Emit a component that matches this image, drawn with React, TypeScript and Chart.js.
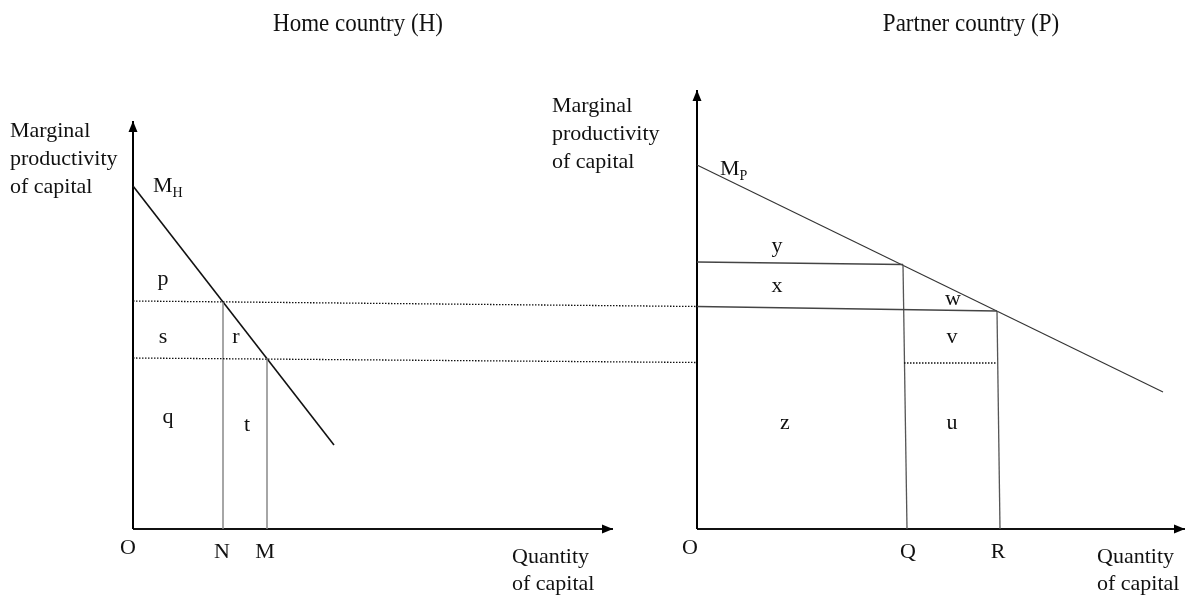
import React, { useEffect, useRef } from "react";
import { Chart, registerables } from "chart.js";
Chart.register(...registerables);

// Diagram units: 1 unit on each axis; Home origin at x=0, Partner origin at x=56.4
const homeYAxis = [{ x: 0, y: 0 }, { x: 0, y: 40.8 }];
const homeXAxis = [{ x: 0, y: 0 }, { x: 48.0, y: 0 }];
const partnerYAxis = [{ x: 56.4, y: 0 }, { x: 56.4, y: 43.9 }];
const partnerXAxis = [{ x: 56.4, y: 0 }, { x: 105.2, y: 0 }];
const curveMH = [{ x: 0, y: 34.3 }, { x: 20.1, y: 8.4 }];
const curveMP = [{ x: 56.4, y: 36.4 }, { x: 103.0, y: 13.7 }];
const lineN = [{ x: 9.0, y: 0 }, { x: 9.0, y: 22.7 }];
const lineM = [{ x: 13.4, y: 0 }, { x: 13.4, y: 17.1 }];
const dottedUpper = [{ x: 0, y: 22.8 }, { x: 56.4, y: 22.25 }];
const dottedLower = [{ x: 0, y: 17.1 }, { x: 56.4, y: 16.65 }];
const lineYTop = [{ x: 56.4, y: 26.7 }, { x: 77.0, y: 26.45 }];
const lineXTop = [{ x: 56.4, y: 22.25 }, { x: 86.4, y: 21.8 }];
const lineQ = [{ x: 77.0, y: 26.45 }, { x: 77.4, y: 0 }];
const lineR = [{ x: 86.4, y: 21.8 }, { x: 86.7, y: 0 }];
const dottedQR = [{ x: 77.1, y: 16.6 }, { x: 86.4, y: 16.6 }];

const titles = ["Home country (H)", "Partner country (P)"];
const yAxisTitle = ["Marginal", "productivity", "of capital"];
const xAxisTitle = ["Quantity", "of capital"];

// text annotations: [text, x, y(baseline), align]
const labels: [string, number, number, CanvasTextAlign][] = [
  [yAxisTitle[0], -12.3, 39.2, "left"],
  [yAxisTitle[1], -12.3, 36.4, "left"],
  [yAxisTitle[2], -12.3, 33.6, "left"],
  [yAxisTitle[0], 41.9, 41.7, "left"],
  [yAxisTitle[1], 41.9, 38.9, "left"],
  [yAxisTitle[2], 41.9, 36.1, "left"],
  ["p", 3.0, 24.4, "center"],
  ["s", 3.0, 18.6, "center"],
  ["r", 10.3, 18.6, "center"],
  ["q", 3.5, 10.6, "center"],
  ["t", 11.4, 9.8, "center"],
  ["O", -0.5, -2.5, "center"],
  ["N", 8.9, -2.9, "center"],
  ["M", 13.2, -2.9, "center"],
  [xAxisTitle[0], 37.9, -3.4, "left"],
  [xAxisTitle[1], 37.9, -6.1, "left"],
  ["y", 64.4, 27.7, "center"],
  ["x", 64.4, 23.7, "center"],
  ["w", 82.0, 22.4, "center"],
  ["v", 81.9, 18.6, "center"],
  ["z", 65.2, 10.0, "center"],
  ["u", 81.9, 10.0, "center"],
  ["O", 55.7, -2.5, "center"],
  ["Q", 77.5, -2.9, "center"],
  ["R", 86.5, -2.9, "center"],
  [xAxisTitle[0], 96.4, -3.4, "left"],
  [xAxisTitle[1], 96.4, -6.1, "left"],
];
const titleLabels: [string, number, number][] = [
  [titles[0], 22.5, 49.8],
  [titles[1], 83.8, 49.8],
];
// curve names with subscripts: [main, sub, x, y]
const curveNames: [string, string, number, number][] = [
  ["M", "H", 2.0, 33.7],
  ["M", "P", 58.7, 35.4],
];

const FONT = '"Liberation Serif", "Times New Roman", serif';

const seg = (data: any[], color: string, width: number, dash: number[] = []) => ({
  data,
  borderColor: color,
  borderWidth: width,
  borderDash: dash,
  pointRadius: 0,
  showLine: true,
  fill: false,
  tension: 0,
  clip: false as any,
  borderCapStyle: "butt" as const,
});

const overlay = {
  id: "overlay",
  afterDraw(chart: any) {
    const { ctx, scales } = chart;
    const sx = (v: number) => scales.x.getPixelForValue(v);
    const sy = (v: number) => scales.y.getPixelForValue(v);
    ctx.save();
    // arrowheads
    const arrows = [
      [homeYAxis[1], "up"],
      [homeXAxis[1], "right"],
      [partnerYAxis[1], "up"],
      [partnerXAxis[1], "right"],
    ] as const;
    ctx.fillStyle = "#000";
    for (const [p, dir] of arrows) {
      const x = sx(p.x), y = sy(p.y);
      ctx.beginPath();
      if (dir === "up") {
        ctx.moveTo(x, y);
        ctx.lineTo(x - 4.5, y + 11);
        ctx.lineTo(x + 4.5, y + 11);
      } else {
        ctx.moveTo(x, y);
        ctx.lineTo(x - 11, y - 4.5);
        ctx.lineTo(x - 11, y + 4.5);
      }
      ctx.closePath();
      ctx.fill();
    }
    ctx.fillStyle = "#111";
    ctx.textBaseline = "alphabetic";
    ctx.font = `22px ${FONT}`;
    for (const [t, x, y, a] of labels) {
      ctx.textAlign = a;
      ctx.fillText(t, sx(x), sy(y));
    }
    ctx.textAlign = "center";
    for (const [t, x, y] of titleLabels) {
      ctx.save();
      ctx.translate(sx(x), sy(y));
      ctx.scale(1, 1.06);
      ctx.font = `23px ${FONT}`;
      ctx.fillText(t, 0, 0);
      ctx.restore();
    }
    for (const [m, s, x, y] of curveNames) {
      ctx.textAlign = "left";
      ctx.font = `22px ${FONT}`;
      const px = sx(x), py = sy(y);
      ctx.fillText(m, px, py);
      const w = ctx.measureText(m).width;
      ctx.font = `14px ${FONT}`;
      ctx.fillText(s, px + w, py + 5);
    }
    ctx.restore();
  },
};

export default function App() {
  const ref = useRef<HTMLCanvasElement | null>(null);
  useEffect(() => {
    document.body.style.margin = "0";
    const chart = new Chart(ref.current as HTMLCanvasElement, {
      type: "scatter",
      data: {
        datasets: [
          seg(dottedUpper, "#111", 1.3, [1.5, 1.5]),
          seg(dottedLower, "#111", 1.3, [1.5, 1.5]),
          seg(dottedQR, "#111", 1.3, [1.5, 1.5]),
          seg(lineN, "#888", 1.5),
          seg(lineM, "#888", 1.5),
          seg(lineYTop, "#444", 1.3),
          seg(lineXTop, "#444", 1.3),
          seg(lineQ, "#555", 1.3),
          seg(lineR, "#555", 1.3),
          seg(curveMH, "#111", 1.6),
          seg(curveMP, "#333", 1.1),
          seg(homeYAxis, "#000", 2),
          seg(homeXAxis, "#111", 2),
          seg(partnerYAxis, "#000", 2),
          seg(partnerXAxis, "#111", 2),
        ],
      },
      options: {
        animation: false,
        responsive: false,
        maintainAspectRatio: false,
        layout: { padding: { left: 133, right: 6, top: 88, bottom: 68 } },
        plugins: { legend: { display: false }, tooltip: { enabled: false }, title: { display: false } },
        scales: {
          x: { type: "linear", min: 0, max: 105.2, display: false },
          y: { type: "linear", min: 0, max: 44.1, display: false },
        },
        events: [],
      },
      plugins: [overlay],
    });
    return () => chart.destroy();
  }, []);
  return (
    <div style={{ position: "absolute", left: 0, top: 0, width: 1191, height: 597, background: "#fff" }}>
      <canvas ref={ref} width={1191} height={597} style={{ width: 1191, height: 597 }} />
    </div>
  );
}
